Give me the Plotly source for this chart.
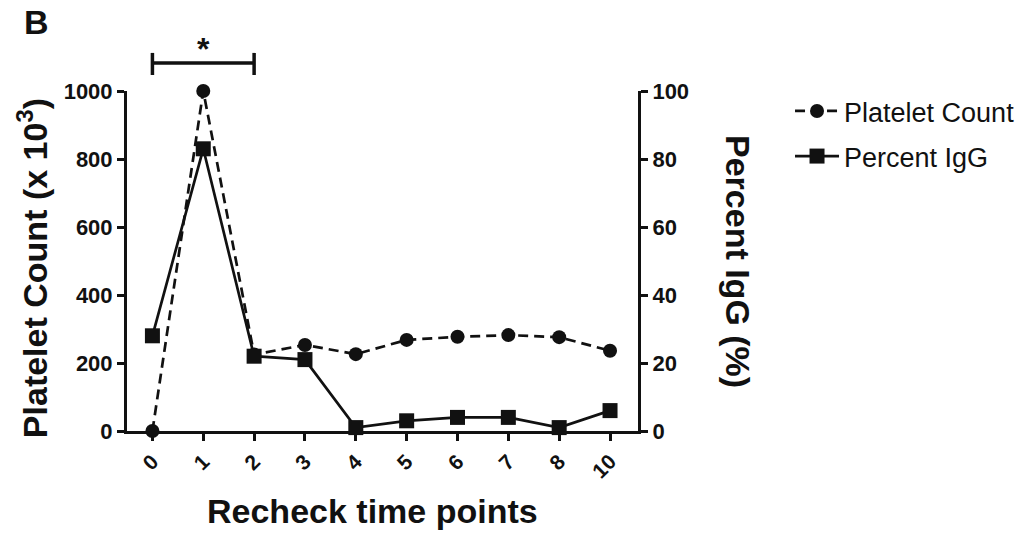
import plotly.graph_objects as go

# Recheck time points (categorical x axis)
time_points = ["0", "1", "2", "3", "4", "5", "6", "7", "8", "10"]
# Platelet count (x 10^3), left axis
platelet_count = [0, 1000, 225, 253, 226, 268, 277, 282, 276, 236]
# Percent IgG, right axis
percent_igg = [28, 83, 22, 21, 1, 3, 4, 4, 1, 6]

left_ticks = [0, 200, 400, 600, 800, 1000]
right_ticks = [0, 20, 40, 60, 80, 100]

FONT = "Liberation Sans, Arial, sans-serif"
BLACK = "#111111"

fig = go.Figure()

fig.add_trace(go.Scatter(
    x=time_points, y=platelet_count, name="Platelet Count",
    mode="lines+markers", yaxis="y", legendgroup="a",
    line=dict(color=BLACK, width=2.7, dash="10px,6px"),
    marker=dict(symbol="circle", size=14, color=BLACK),
    cliponaxis=False,
))
fig.add_trace(go.Scatter(
    x=time_points, y=percent_igg, name="Percent IgG",
    mode="lines+markers", yaxis="y2", legendgroup="b",
    line=dict(color=BLACK, width=2.7),
    marker=dict(symbol="square", size=15, color=BLACK),
    cliponaxis=False,
))

axis_common = dict(
    showline=True, linewidth=3, linecolor=BLACK,
    ticks="outside", ticklen=7, tickwidth=2.5, tickcolor=BLACK,
    showgrid=False, zeroline=False,
)

fig.update_layout(
    width=1019, height=533,
    margin=dict(l=127, r=381, t=91, b=102, autoexpand=False),
    paper_bgcolor="white", plot_bgcolor="white",
    font=dict(family=FONT, color=BLACK),
    xaxis=dict(
        type="category", range=[-0.5, 9.55],
        tickangle=-45,
        tickfont=dict(family=FONT, size=21, weight="bold", color=BLACK),
        **axis_common,
    ),
    yaxis=dict(
        range=[0, 1000], tickvals=left_ticks,
        tickfont=dict(family=FONT, size=22, weight="bold", color=BLACK),
        **axis_common,
    ),
    yaxis2=dict(
        range=[0, 100], tickvals=right_ticks,
        overlaying="y", side="right",
        tickfont=dict(family=FONT, size=22, weight="bold", color=BLACK),
        **axis_common,
    ),
    legend=dict(
        x=1.2975, y=1.012, xanchor="left", yanchor="top",
        font=dict(family=FONT, size=27, color=BLACK),
        tracegroupgap=7, itemwidth=44,
        bgcolor="rgba(0,0,0,0)",
    ),
    showlegend=True,
)

# Significance bracket between time points 0 and 2
bracket = dict(xref="x", yref="paper", line=dict(color=BLACK, width=3.5))
fig.add_shape(type="line", x0=time_points[0], x1=time_points[2], y0=1.0824, y1=1.0824, **bracket)
fig.add_shape(type="line", x0=time_points[0], x1=time_points[0], y0=1.047, y1=1.112, **bracket)
fig.add_shape(type="line", x0=time_points[2], x1=time_points[2], y0=1.047, y1=1.112, **bracket)
fig.add_annotation(x=time_points[1], y=1.125, xref="x", yref="paper",
                   text="*", showarrow=False, yanchor="middle",
                   font=dict(family=FONT, size=32, weight="bold", color=BLACK))

# Axis titles and panel letter
fig.add_annotation(x=0.48, y=-0.235, xref="paper", yref="paper",
                   text="Recheck time points", showarrow=False,
                   xanchor="center", yanchor="middle",
                   font=dict(family=FONT, size=34, weight="bold", color=BLACK))
fig.add_annotation(x=0, y=0.479, xref="paper", yref="paper", xshift=-95,
                   text="Platelet Count (x 10<sup>3</sup>)", showarrow=False,
                   textangle=-90, xanchor="center", yanchor="middle",
                   font=dict(family=FONT, size=34, weight="bold", color=BLACK))
fig.add_annotation(x=1, y=0.5, xref="paper", yref="paper", xshift=100,
                   text="Percent IgG (%)", showarrow=False,
                   textangle=90, xanchor="center", yanchor="middle",
                   font=dict(family=FONT, size=34, weight="bold", color=BLACK))
fig.add_annotation(x=0, y=1.2015, xref="paper", yref="paper", xshift=-105,
                   text="B", showarrow=False, xanchor="left", yanchor="middle",
                   font=dict(family=FONT, size=34, weight="bold", color=BLACK))

fig.write_html("out.html")
